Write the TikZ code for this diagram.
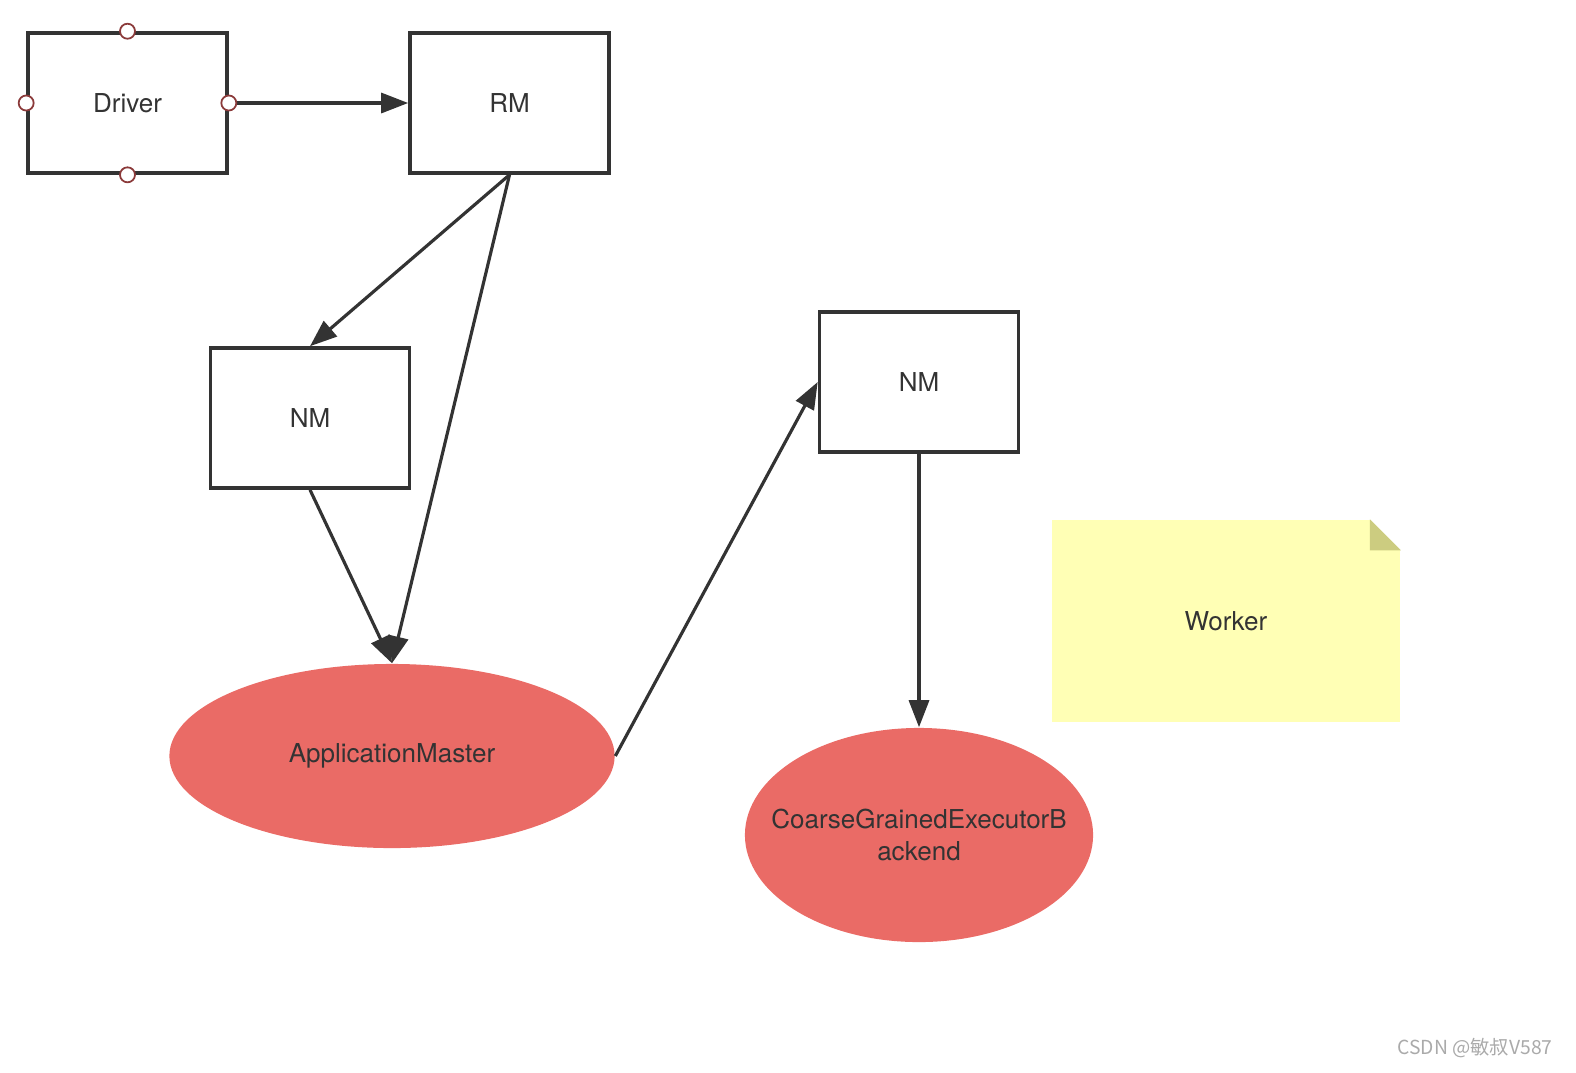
\documentclass[tikz,border=0pt]{standalone}
\usepackage{fontspec}
\setmainfont{TeX Gyre Heros}
\newfontfamily\cjkfont{Noto Sans CJK SC}
\usetikzlibrary{shapes.geometric,arrows.meta}

\definecolor{linegray}{HTML}{333333}
\definecolor{amred}{HTML}{EA6B66}
\definecolor{noteyellow}{HTML}{FFFFB5}
\definecolor{notefold}{HTML}{CCCC80}
\definecolor{portred}{HTML}{8B3A3A}
\definecolor{markgray}{HTML}{AAAAAA}

\begin{document}
\begin{tikzpicture}[x=0.01cm,y=-0.01cm,
    box/.style={draw=linegray,line width=1pt,minimum width=1.99cm,minimum height=1.40cm,
                inner sep=0pt,text=linegray,font=\fontsize{7.4}{9}\selectfont},
    blob/.style={ellipse,fill=amred,inner sep=0pt,text=linegray,align=center,
                 font=\fontsize{7.4}{9}\selectfont},
    flow/.style={draw=linegray,line width=0.9pt,-{Triangle[length=0.27cm,width=0.2cm]}},
    port/.style={circle,draw=portred,fill=white,line width=0.5pt,minimum size=0.15cm,inner sep=0pt}
]

    % Fix the page to the size of the reference
    \useasboundingbox (0,0) rectangle (1576,1072);

    % The boxes
    \node[box] (driver) at (127.5,103) {Driver};
    \node[box] (rm) at (509.5,103) {RM};
    \node[box] (nmleft) at (310,418) {NM};
    \node[box] (nmright) at (919,382) {NM};

    % The two red ellipses
    \node[blob,minimum width=4.45cm,minimum height=1.84cm] (am) at (392,756) {ApplicationMaster};
    \node[blob,inner xsep=-0.32cm,minimum width=3.48cm,minimum height=2.14cm] (backend) at (919,835)
        {CoarseGrainedExecutorB\\ackend};

    % The yellow note with its folded corner
    \node[fill=noteyellow,minimum width=3.48cm,minimum height=2.02cm,inner sep=0pt,
          text=linegray,font=\fontsize{7.4}{9}\selectfont] (worker) at (1226,621) {Worker};
    \fill[white] ([xshift=-0.31cm]worker.north east) -- (worker.north east)
        -- ([yshift=-0.31cm]worker.north east) -- cycle;
    \fill[notefold] ([xshift=-0.31cm]worker.north east) -- ([xshift=-0.31cm,yshift=-0.31cm]worker.north east)
        -- ([yshift=-0.31cm]worker.north east) -- cycle;

    % The arrows
    \draw[flow] (driver.east) -- (rm.west);
    \draw[flow] (rm.south) -- (nmleft.north);
    \draw[flow] (rm.south) -- (am.north);
    \draw[flow] (nmleft.south) -- (am.north);
    \draw[flow] (am.east) -- (nmright.west);
    \draw[flow] (nmright.south) -- (backend.north);

    % Small connection points on the Driver box
    \foreach \side in {north,south,east,west}
        \node[port] at (driver.\side) {};

    % Watermark
    \node[text=markgray,font=\cjkfont\fontsize{5.5}{6}\selectfont] (mark) at (1475,1048) {CSDN @敏叔V587};

\end{tikzpicture}
\end{document}
